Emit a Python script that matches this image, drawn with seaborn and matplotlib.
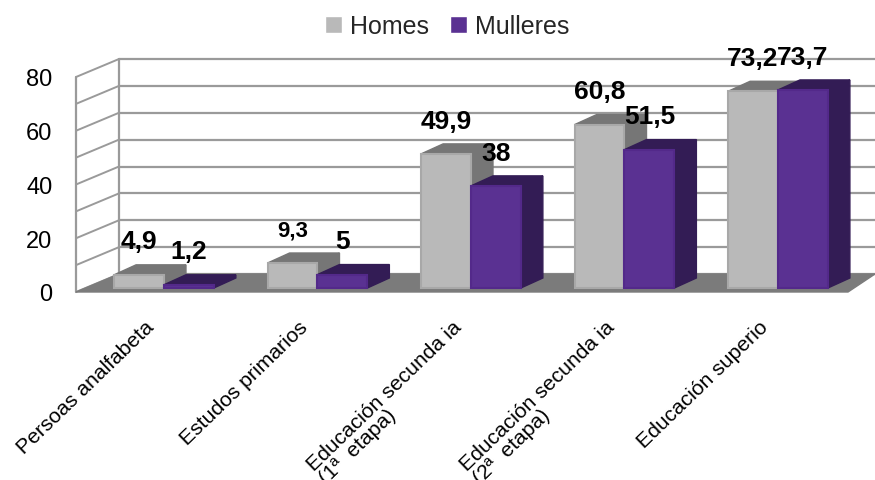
import pandas as pd
import seaborn as sns
import matplotlib.pyplot as plt
from matplotlib.patches import Polygon
from matplotlib.transforms import Affine2D

categories = ['Persoas analfabeta', 'Estudos primarios', 'Educación secunda ia\n(1ª  etapa)',
              'Educación secunda ia\n(2ª  etapa)', 'Educación superio']
homes = [4.9, 9.3, 49.9, 60.8, 73.2]
mulleres = [1.2, 5, 38, 51.5, 73.7]
y_ticks = [0, 20, 40, 60, 80]
grid_levels = [0, 10, 20, 30, 40, 50, 60, 70, 80]

sns.set_style('white')
plt.rcParams['font.family'] = ['Liberation Sans', 'DejaVu Sans']

W, H = 875, 481
fig = plt.figure(figsize=(W / 100, H / 100), dpi=100)
ax = fig.add_axes([76 / W, (H - 293) / H, (848 - 76) / W, (293 - 78) / H])
ax.patch.set_alpha(0)

df = pd.DataFrame({'cat': categories * 2,
                   'serie': ['Homes'] * 5 + ['Mulleres'] * 5,
                   'valor': homes + mulleres})
colors = {'Homes': '#b9b9b9', 'Mulleres': '#5a3192'}
sides = {'Homes': '#767676', 'Mulleres': '#331c55'}
edges = {'Homes': '#a8a8a8', 'Mulleres': '#53298a'}
sns.barplot(data=df, x='cat', y='valor', hue='serie', palette=colors, order=categories,
            width=0.65, gap=0, saturation=1, ax=ax)

ax.set_xlim(-0.573, 4.456)
ax.set_ylim(0, 80)
ax.set_xlabel('')
ax.set_ylabel('')
sns.despine(ax=ax, left=True, bottom=True)

# pseudo 3d: everything below is shifted in pixels from the data positions
to_back = ax.transData + Affine2D().translate(43, 18)
to_bar = ax.transData + Affine2D().translate(0, 4)
grid_c = '#9a9a9a'
left, right = ax.get_xlim()
back_right = left + (875 - 43 - 76) / 153.5

for v in grid_levels:
    ax.plot([left, back_right], [v, v], transform=to_back, color=grid_c, lw=1.6, zorder=1, clip_on=False)
    x0, y0 = ax.transData.transform((left, v))
    ax.plot([x0, x0 + 43], [y0, y0 + 18], transform=None, color=grid_c, lw=1.4, zorder=1, clip_on=False)
ax.plot([left, left], [0, 80], transform=to_back, color=grid_c, lw=1.6, zorder=1, clip_on=False)
ax.plot([left, left], [0, 80], color=grid_c, lw=1.6, zorder=1, clip_on=False)

p0 = ax.transData.transform((left, 0))
p1 = ax.transData.transform((right, 0))
floor = [p0, p1, (875, p1[1] + 18), (p0[0] + 43, p0[1] + 18)]
ax.add_patch(Polygon(floor, closed=True, transform=None, color='#7b7b7b', zorder=2, clip_on=False))

for z, (name, cont) in enumerate(zip(['Homes', 'Mulleres'], ax.containers)):
    for bar in cont:
        bar.set_transform(to_bar)
        bar.set_zorder(4 + z)
        bar.set_edgecolor(edges[name])
        bar.set_linewidth(1.5)
        bar.set_clip_on(False)
        xa, xb = bar.get_x(), bar.get_x() + bar.get_width()
        h = bar.get_height()
        (ax_, ay), (bx, by) = to_bar.transform([(xa, h), (xb, h)])
        _, base = to_bar.transform((xb, 0))
        top = [(ax_, ay), (bx, by), (bx + 22, by + 10), (ax_ + 22, ay + 10)]
        side = [(bx, by), (bx + 22, by + 10), (bx + 22, base + 10), (bx, base)]
        ax.add_patch(Polygon(top, closed=True, transform=None, color=sides[name], zorder=3 + z, clip_on=False))
        ax.add_patch(Polygon(side, closed=True, transform=None, color=sides[name], zorder=3 + z, clip_on=False))
        size = 16 if h == 9.3 else 19
        ax.annotate(f'{h:g}'.replace('.', ','), ((xa + xb) / 2, h), xycoords=to_bar, xytext=(0, 24),
                    textcoords='offset points', ha='center', va='center', fontsize=size,
                    fontweight='bold', color='black', zorder=8)

ax.set_yticks(y_ticks)
ax.tick_params(axis='y', length=0, pad=17, labelsize=17, labelcolor='black')
ax.tick_params(axis='x', length=0, pad=22, labelsize=15.2, labelcolor='black')
shift = Affine2D().translate(-19, 6)
for lab in ax.get_xticklabels():
    lab.set(rotation=44, ha='right', va='top', rotation_mode='anchor', multialignment='left', linespacing=0.95)
    lab.set_transform(lab.get_transform() + shift)

sns.move_legend(ax, 'center', bbox_to_anchor=(0.481, 1.236), ncol=2, frameon=False, title=None,
                fontsize=18, handlelength=0.68, handleheight=0.68, handletextpad=0.32,
                columnspacing=0.84, borderpad=0)

fig.savefig('out.png', dpi=100)
